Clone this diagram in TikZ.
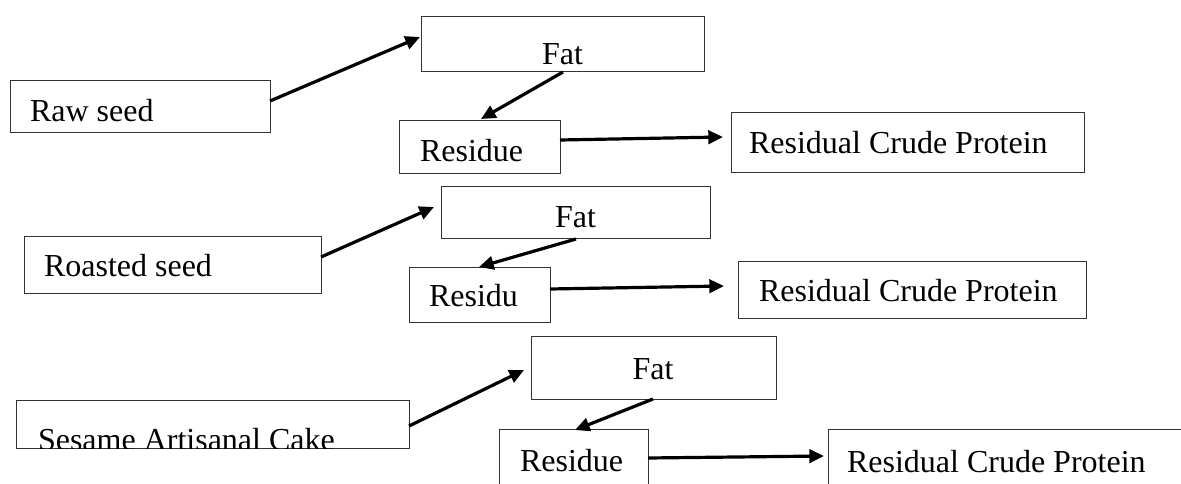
\documentclass[tikz,border=0pt]{standalone}
\usepackage{fontspec}
\setmainfont{Liberation Serif}
\newfontfamily\labfont{Liberation Serif}
\usetikzlibrary{arrows.meta,calc}

\tikzset{
  box/.style={draw=black!80, line width=0.75pt, inner sep=0pt, outer sep=0pt,
              anchor=north west},
  lab/.style={inner sep=0pt, outer sep=0pt, font=\labfont\fontsize{24}{28}\selectfont},
  conn/.style={line width=2.4pt, -{Triangle[length=11pt,width=10pt]}},
}

\begin{document}
\begin{tikzpicture}[x=0.75pt, y=-0.75pt]
\useasboundingbox (0,0) rectangle (1181,484);
\clip (0,0) rectangle (1181,484);

% first row: raw seed
\node[box, minimum width=195pt,    minimum height=39pt]    (raw)    at (10,81)   {};
\node[box, minimum width=212.25pt, minimum height=41.25pt] (fat1)   at (421,17)  {};
\node[box, minimum width=120.75pt, minimum height=39.75pt] (res1)   at (399,121) {};
\node[box, minimum width=264.75pt, minimum height=45pt]    (rcp1)   at (731,113) {};

\node[lab, anchor=base west] (tRaw)  at (30,122)    {Raw seed};
\node[lab, anchor=base]      (tFat1) at (562.5,65)  {Fat};
\node[lab, anchor=base west] (tRes1) at (420,162)   {Residue};
\node[lab, anchor=base west] (tRcp1) at (749,154)   {Residual Crude Protein};

% second row: roasted seed
\node[box, minimum width=222.75pt, minimum height=42.75pt] (roast)  at (24,237)  {};
\node[box, minimum width=201.75pt, minimum height=39pt]    (fat2)   at (441,187) {};
\node[box, minimum width=105.75pt, minimum height=41.25pt] (residu) at (409,268) {};
\node[box, minimum width=261pt,    minimum height=42.75pt] (rcp2)   at (738,262) {};

\node[lab, anchor=base west] (tRoast)  at (44,277)    {Roasted seed};
\node[lab, anchor=base]      (tFat2)   at (575.5,228) {Fat};
\node[lab, anchor=base west] (tResidu) at (429,307)   {Residu};
\node[lab, anchor=base west] (tRcp2)   at (759,302)   {Residual Crude Protein};

% third row: sesame artisanal cake
\node[box, minimum width=294.75pt, minimum height=36pt]    (sesame) at (16,400)  {};
\node[box, minimum width=183.75pt, minimum height=46.5pt]  (fat3)   at (531,337) {};
\node[box, minimum width=111.75pt, minimum height=52.5pt]  (res3)   at (499,429) {};
\node[box, minimum width=277.5pt,  minimum height=52.5pt]  (rcp3)   at (828,429) {};

\begin{scope}
  \clip (sesame.north west) rectangle (sesame.south east);
  \node[lab, anchor=base west] (tSesame) at (38,450) {Sesame Artisanal Cake};
\end{scope}
\node[lab, anchor=base]      (tFat3) at (653,379) {Fat};
\node[lab, anchor=base west] (tRes3) at (520,471) {Residue};
\node[lab, anchor=base west] (tRcp3) at (847,472) {Residual Crude Protein};

% connectors
\draw[conn] ($(raw.north east)+(0,20)$)     -- ($(fat1.north west)+(-1,20)$);
\draw[conn] ($(fat1.south west)+(142,0)$)   -- ($(res1.north west)+(82,-2)$);
\draw[conn] ($(res1.north east)+(0,19)$)    -- ($(rcp1.north west)+(-8,24)$);

\draw[conn] ($(roast.north east)+(0,20)$)   -- ($(fat2.north west)+(-7,20)$);
\draw[conn] ($(fat2.south west)+(135,0)$)   -- ($(residu.north west)+(70,-1)$);
\draw[conn] ($(residu.north east)+(0,21)$)  -- ($(rcp2.north west)+(-14,24)$);

\draw[conn] ($(sesame.north east)+(0,26)$)  -- ($(fat3.north west)+(-7,33)$);
\draw[conn] ($(fat3.south west)+(122,0)$)   -- ($(res3.north west)+(76,1)$);
\draw[conn] ($(res3.north east)+(0,29)$)    -- ($(rcp3.north west)+(-4,27)$);
\end{tikzpicture}
\end{document}
